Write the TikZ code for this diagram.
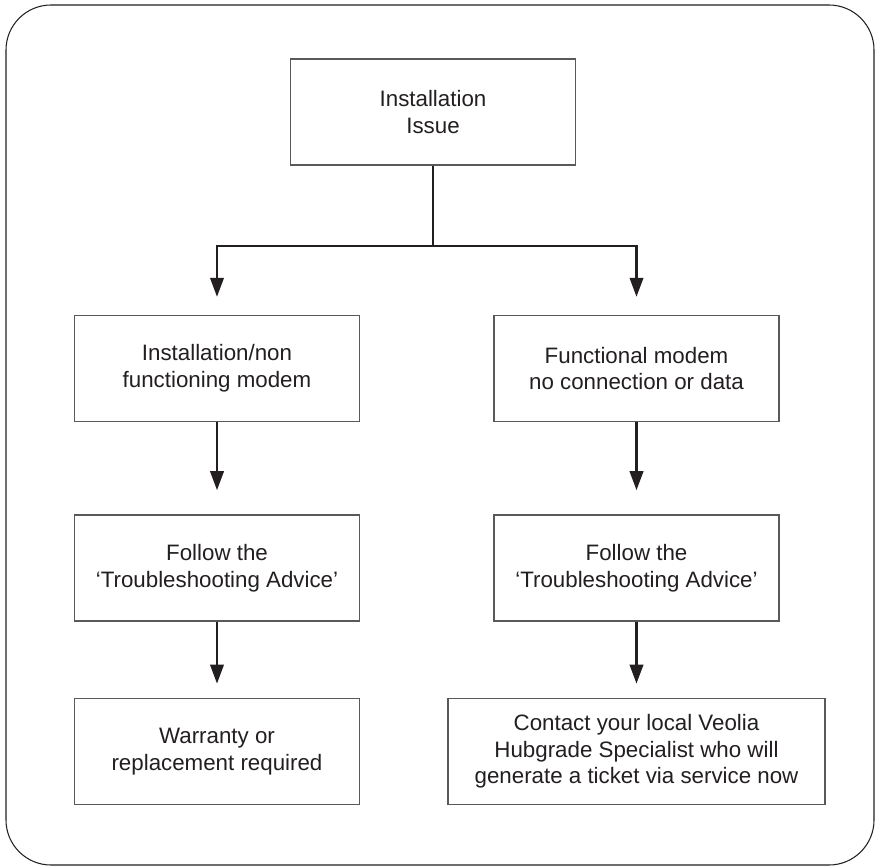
\documentclass[tikz,border=0pt]{standalone}
\usepackage{fontspec}
\setmainfont{Liberation Sans}
\usetikzlibrary{arrows.meta, positioning}
\definecolor{ink}{HTML}{231F20}
\definecolor{edge}{HTML}{58595B}
\begin{document}
\begin{tikzpicture}[>={Triangle[length=0.38cm,width=0.27cm]}, font=\fontsize{12.7}{15.3}\selectfont, text=ink, box/.style={draw=edge, line width=0.8pt, fill=white, align=center, minimum width=5.7cm, minimum height=2.12cm, inner sep=0pt}, flow/.style={->, draw=ink, line width=1.3pt}]
\useasboundingbox (0,0) rectangle (17.52,-17.32);
\draw[ink, line width=0.6pt, rounded corners=0.9cm] (0.12,-0.1) rectangle (17.48,-17.3);
\node[box] (issue) at (8.66,-2.24) {Installation\\Issue};
\node[box] (nonfunc) at (4.34,-7.37) {Installation/non\\functioning modem};
\node[box] (func) at (12.73,-7.37) {Functional modem\\no connection or data};
\node[box, below=1.84cm of nonfunc] (adviceL) {Follow the\\‘Troubleshooting Advice’};
\node[box, below=1.84cm of func] (adviceR) {Follow the\\‘Troubleshooting Advice’};
\node[box, below=1.52cm of adviceL] (warranty) {Warranty or\\replacement required};
\node[box, minimum width=7.54cm, below=1.52cm of adviceR] (contact) {Contact your local Veolia\\Hubgrade Specialist who will\\generate a ticket via service now};
\draw[draw=ink, line width=1.3pt] (issue.south) -- ++(0,-1.6) coordinate (split);
\draw[flow, shorten >=0.36cm] (split) -| (nonfunc.north);
\draw[flow, shorten >=0.36cm] (split) -| (func.north);
\draw[flow, shorten >=0.48cm] (nonfunc) -- (adviceL);
\draw[flow, shorten >=0.48cm] (func) -- (adviceR);
\draw[flow, shorten >=0.28cm] (adviceL) -- (warranty);
\draw[flow, shorten >=0.28cm] (adviceR) -- (contact);
\end{tikzpicture}
\end{document}
